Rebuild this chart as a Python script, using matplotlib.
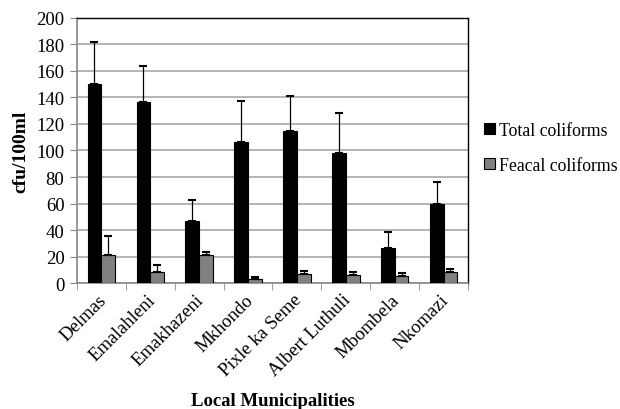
import numpy as np
import matplotlib.pyplot as plt

plt.rcParams['font.family'] = ['Liberation Serif', 'DejaVu Serif']

# values
municipalities = ['Delmas', 'Emalahleni', 'Emakhazeni', 'Mkhondo',
                  'Pixle ka Seme', 'Albert Luthuli', 'Mbombela', 'Nkomazi']
total = [150, 136.5, 46.5, 106.5, 115, 98, 26.5, 60]
total_err = [32, 27, 16, 30.5, 26, 30.5, 12, 16.5]
feacal = [21, 8.5, 21, 3, 6.8, 6.3, 5.3, 8.5]
feacal_err = [14.5, 5.3, 2.5, 1.5, 2, 2.2, 2, 2.1]

x = np.arange(len(municipalities))
w = 0.28

fig = plt.figure(figsize=(6.2, 4.1), dpi=100)
ax = fig.add_axes([0.124, 0.307, 0.631, 0.647])

ax.bar(x - w/2, total, w, color='black', edgecolor='black', linewidth=0.8,
       label='Total coliforms', zorder=3,
       yerr=[np.zeros(len(total)), total_err],
       error_kw=dict(ecolor='black', elinewidth=0.9, capsize=2.6, capthick=1.5))
ax.bar(x + w/2, feacal, w, color='#808080', edgecolor='black', linewidth=0.8,
       label='Feacal coliforms', zorder=3,
       yerr=[np.zeros(len(feacal)), feacal_err],
       error_kw=dict(ecolor='black', elinewidth=0.9, capsize=2.6, capthick=1.5))

ax.set_xlim(-0.5, len(municipalities) - 0.5)
ax.set_ylim(0, 200)
ax.set_yticks(np.arange(0, 201, 20))
ax.yaxis.grid(True, color='#a8a8a8', linewidth=1.2, zorder=0)
ax.set_axisbelow(True)

ax.set_xticks(x + 0.05)
ax.set_xticklabels(municipalities, rotation=45, ha='right', va='center',
                   rotation_mode='anchor', fontsize=13.5)
ax.set_xticks(np.arange(-0.5, len(municipalities)), minor=True)
ax.tick_params(axis='x', which='major', length=0, pad=10)
ax.tick_params(axis='x', which='minor', length=5, color='#888888', direction='out')
ax.tick_params(axis='y', length=5, color='#888888', labelsize=13.5, pad=4)

for s in ['left', 'bottom']:
    ax.spines[s].set_color('#888888')
    ax.spines[s].set_linewidth(1.2)
for s in ['top', 'right']:
    ax.spines[s].set_color('black')
    ax.spines[s].set_linewidth(1.0)

ax.set_ylabel('cfu/100ml', fontsize=14, fontweight='bold', labelpad=5)
ax.set_xlabel('Local Municipalities', fontsize=13.5, fontweight='bold', labelpad=9)

ax.legend(loc='center left', bbox_to_anchor=(484 / 620, 0.637),
          bbox_transform=fig.transFigure, frameon=False,
          fontsize=12.8, handlelength=0.62, handleheight=0.62, handletextpad=0.25,
          labelspacing=1.0, borderpad=0, borderaxespad=0)

fig.savefig('out.png', dpi=100)
